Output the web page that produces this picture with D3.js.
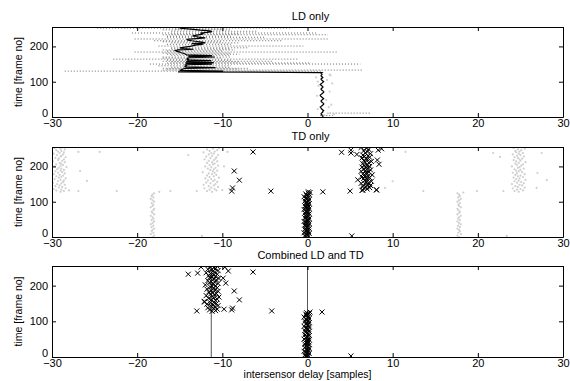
<!DOCTYPE html>
<html>
<head>
<meta charset="utf-8">
<script src="https://cdn.jsdelivr.net/npm/d3@7"></script>
<style>
  body { margin: 0; background: #fff; }
  text { font-family: "Liberation Sans", Arial, sans-serif; }
</style>
</head>
<body>
<div id="chart"></div>
<script>
// ---- data (delay in samples, time in frames) ----
var xTicks = [-30, -20, -10, 0, 10, 20, 30];
var yTicks = [0, 100, 200];
var titles = ["LD only", "TD only", "Combined LD and TD"];

// one estimate every 2nd frame
var earlyFrames = d3.range(0, 128, 2);
var lateFrames = d3.range(128, 256, 2);
// gray alternatives for the first half every 4th frame
var earlyFramesSparse = d3.range(0, 128, 4);

// LD only: tracked delay
var ldTrackEarly = [1.8,1.8,1.7,1.7,1.6,1.6,1.7,1.8,1.8,1.9,1.8,1.7,1.6,1.6,1.5,1.6,
  1.7,1.8,1.9,1.9,1.8,1.7,1.6,1.6,1.7,1.8,1.9,1.8,1.7,1.6,1.5,1.5,
  1.6,1.7,1.8,1.9,1.9,1.8,1.7,1.6,1.6,1.7,1.8,1.8,1.7,1.6,1.5,1.6,
  1.7,1.8,1.9,1.8,1.7,1.6,1.6,1.7,1.8,1.7,1.6,1.6,1.7,1.7,1.6,1.7];
var ldTrackLate = [-15.2,-9.9,-15.0,-14.8,-14.6,-14.4,-10.8,-14.3,-14.4,-14.2,-14.3,-11.2,-14.3,-11.0,-14.2,-14.1,
  -11.3,-14.2,-14.0,-14.1,-13.9,-10.9,-14.0,-11.2,-14.2,-14.3,-14.5,-14.8,-15.0,-15.3,-15.5,-15.2,
  -13.4,-14.6,-15.0,-14.4,-13.8,-13.4,-13.0,-12.3,-13.6,-12.0,-12.4,-13.0,-13.6,-14.0,-14.2,-13.1,
  -12.0,-12.6,-13.2,-13.5,-13.0,-12.5,-12.2,-12.6,-11.8,-11.2,-11.5,-12.6,-13.4,-14.2,-15.0,-14.6];
// LD only: dotted candidate rows [frame, from, to]
var ldRows = [[252,-24.7,-2.0],[249,-15.5,-10.0],[247,-17.0,-9.0],[243,-16.0,-6.0],[238,-20.6,1.0],
  [235,-16.0,-8.0],[233,-17.0,2.4],[229,-16.5,-9.0],[226,-16.5,-5.0],[221,-20.3,2.6],
  [216,-18.0,-3.0],[213,-17.0,-10.0],[210,-16.0,-8.0],[206,-16.5,-9.0],[201,-17.5,-0.5],
  [196,-16.0,-7.0],[193,-16.0,-9.0],[190,-17.0,-8.5],[187,-16.5,-10.0],[184,-20.3,3.5],
  [181,-17.0,-9.0],[178,-16.5,-8.0],[175,-16.0,-9.0],[170,-17.0,-9.0],[167,-17.0,-10.0],
  [164,-22.8,-1.0],[161,-16.5,-9.0],[158,-17.0,-4.0],[156,-16.0,-8.0],[153,-16.5,0.3],
  [150,-18.5,6.2],[145,-17.5,-9.0],[141,-16.0,-9.0],[138,-17.0,-7.0],[136,-16.5,-8.0],
  [133,-17.0,6.5],[130,-28.5,1.7],[11,2.6,7.3],[4,1.5,3.0]];
// LD only: scattered candidates around the early track [delay, frame]
var ldScatter = [[2.4,10],[1.2,22],[2.8,35],[2.2,48],[1.1,60],[2.6,72],[1.3,88],[2.9,95],
  [2.3,105],[1.0,112],[2.7,118],[2.0,5],[3.1,8],[2.5,28],[2.6,120],[1.2,100]];

// TD only: best estimate
var tdBestEarly = [-0.2,0.1,-0.3,0.0,-0.1,0.2,-0.4,-0.1,0.1,-0.2,0.0,-0.3,0.2,-0.1,0.0,-0.2,
  0.1,-0.3,-0.1,0.2,0.0,-0.2,-0.4,0.1,-0.1,0.0,0.2,-0.3,-0.1,0.1,-0.2,0.0,
  -0.1,0.2,-0.3,0.0,-0.2,0.1,-0.1,-0.4,0.2,0.0,-0.2,0.1,-0.3,-0.1,0.0,0.2,
  -0.2,-0.1,0.1,-0.3,0.0,0.2,-0.1,-0.2,0.1,-0.4,0.0,-0.1,0.2,-0.2,0.1,0.3];
var tdBestLate = [1.8,5.0,6.4,8.1,7.0,6.6,7.3,6.9,6.5,7.4,7.1,6.8,6.3,7.2,6.9,7.5,
  6.7,5.9,7.0,6.6,7.3,6.4,7.1,6.8,7.6,6.5,7.0,6.9,7.2,6.3,6.8,7.4,
  6.6,7.1,6.9,6.4,7.3,6.7,7.0,8.4,6.5,7.2,6.8,7.5,6.6,8.2,7.0,6.9,
  6.4,7.3,6.7,7.1,6.5,5.8,7.4,6.8,4.0,7.0,6.6,5.1,7.2,8.7,6.9,6.3];
var tdOutliers = [[-6.4,241],[-8.6,187],[-8.0,161],[-8.8,139],[-8.9,130],[-4.3,130],
  [5.2,3],[5.1,238],[8.3,246],[8.1,133],[6.5,133],[0.1,128]];
// TD only: secondary peaks (gray)
var tdAltA = [-18.2,-18.0,-18.4,-18.1,-18.3,-18.2,-18.0,-18.3,-18.1,-18.4,-18.2,-18.0,-18.3,-18.1,-18.2,-18.4,
  -18.0,-18.2,-18.3,-18.1,-18.0,-18.4,-18.2,-18.1,-18.3,-18.0,-18.2,-18.4,-18.1,-18.3,-18.2,-18.0];
var tdAltB = [17.8,17.6,18.0,17.7,17.9,17.8,17.6,17.9,17.7,18.0,17.8,17.6,17.9,17.7,17.8,18.0,
  17.6,17.8,17.9,17.7,17.6,18.0,17.8,17.7,17.9,17.6,17.8,18.0,17.7,17.9,17.8,17.6];
var tdAltC = [-29.0,-28.6,-29.5,-28.9,-29.8,-28.4,-29.2,-28.8,-29.6,-29.1,-28.5,-29.4,-28.9,-29.9,-28.7,-29.3,
  -28.6,-29.0,-29.7,-28.4,-29.2,-28.9,-29.5,-28.7,-29.1,-29.8,-28.5,-29.3,-28.8,-29.6,-29.0,-28.6,
  -29.4,-28.9,-29.2,-28.3,-29.7,-29.0,-28.7,-29.5,-28.9,-29.1,-28.5,-29.9,-28.8,-29.3,-28.6,-29.2,
  -29.6,-28.4,-29.0,-28.9,-29.4,-28.7,-29.8,-29.1,-28.6,-29.3,-28.9,-29.5,-28.5,-29.0,-29.7,-28.8];
var tdAltD = [-11.2,-11.8,-10.7,-11.5,-10.9,-12.1,-11.3,-10.5,-11.6,-11.0,-12.2,-10.8,-11.4,-11.9,-10.6,-11.1,
  -11.7,-10.9,-11.3,-12.0,-10.4,-11.5,-11.0,-11.8,-10.7,-11.2,-11.6,-10.9,-12.3,-11.1,-10.6,-11.4,
  -11.0,-11.7,-10.8,-11.3,-12.0,-10.5,-11.5,-11.1,-10.9,-11.8,-11.2,-10.6,-11.6,-11.0,-12.1,-10.8,
  -11.4,-10.7,-11.9,-11.2,-10.5,-11.6,-11.0,-11.3,-12.2,-10.9,-11.5,-10.6,-11.8,-11.1,-10.4,-11.3];
var tdAltE = [24.8,24.3,25.3,24.6,25.0,24.1,25.5,24.7,24.4,25.2,24.9,24.0,25.4,24.6,25.1,24.3,
  24.8,25.6,24.5,24.9,24.2,25.3,24.7,25.0,24.4,25.5,24.6,24.1,25.2,24.8,24.5,25.0,
  24.3,25.4,24.7,24.9,24.0,25.1,24.6,25.3,24.4,24.8,25.6,24.5,25.0,24.2,24.9,25.2,
  24.7,24.3,25.4,24.6,25.0,24.1,24.8,25.3,24.5,24.9,24.4,25.1,24.7,25.5,24.2,24.8];
var tdAltOutliers = [[-26.9,241],[-26.7,187],[-25.9,159],[-24.4,241],[-26.9,130],[-22.4,130],
  [-14.0,232],[-16.1,130],[-13.0,130],[-9.4,241],[-9.8,200],[-12.4,3],[11.5,241],[10.0,158],
  [9.1,139],[13.6,130],[19.9,130],[23.0,130],[21.8,238],[22.6,227],[27.0,181],[28.1,161],
  [26.9,139],[27.5,238],[23.4,3],[-17.4,128],[18.3,126],[-28.0,132],[-10.0,133]];

// Combined: best estimate
var combBestEarly = [0.0,-0.2,0.1,-0.3,-0.1,0.2,0.0,-0.2,-0.4,0.1,-0.1,0.0,0.2,-0.3,0.1,-0.2,
  -0.1,0.2,-0.3,0.0,-0.2,0.1,-0.1,0.0,0.2,-0.4,0.1,-0.2,0.0,-0.1,0.2,-0.3,
  0.1,-0.1,0.0,-0.2,0.2,-0.3,0.0,0.1,-0.2,-0.1,0.2,-0.4,0.0,0.1,-0.2,-0.1,
  0.2,0.0,-0.3,0.1,-0.1,-0.2,0.2,0.0,-0.4,0.1,-0.1,0.0,-0.2,0.2,-0.1,0.3];
var combBestLate = [-11.2,-10.8,-11.5,-10.6,-11.0,-11.7,-10.9,-11.3,-10.5,-11.1,-11.8,-10.7,-11.4,-11.0,-12.1,-10.8,
  -11.3,-10.6,-11.6,-11.0,-10.4,-11.2,-11.9,-10.9,-11.4,-10.7,-11.1,-11.6,-10.5,-11.3,-10.9,-11.8,
  -11.0,-10.6,-11.4,-11.2,-10.8,-12.0,-11.1,-10.5,-11.5,-10.9,-11.3,-11.7,-10.7,-11.0,-10.4,-11.5,
  -11.2,-10.8,-11.6,-11.0,-10.6,-11.4,-11.9,-10.9,-11.1,-10.5,-11.3,-11.7,-10.8,-11.0,-11.4,-10.6];
var combOutliers = [[-14.0,232],[-12.9,235],[-12.5,252],[-9.7,252],[-9.3,241],[-9.9,221],[-9.6,207],
  [-8.6,185],[-8.0,160],[-13.0,129],[-12.1,154],[-9.8,134],[-8.9,132],[-8.8,137],[-4.2,129],
  [-6.4,238],[1.7,126],[5.1,3]];
// Combined: reference delay lines [delay, fromFrame, toFrame]
var combLines = [[-11.3,0,255],[0,0,255]];

// ---- layout ----
var W = 570, H = 381;
var left = 52, right = 563;
var panelBox = [[27, 117], [147, 237], [266, 357]];

var svg = d3.select("#chart").append("svg")
    .attr("width", W)
    .attr("height", H);

var x = d3.scaleLinear().domain([-30, 30]).range([left, right]);
var crossPath = "M-2.5,-2.5L2.5,2.5M-2.5,2.5L2.5,-2.5";

function pairs(frames, values) {
  return values.map(function(v, i) { return [v, frames[i]]; });
}

function makePanel(i) {
  var top = panelBox[i][0], bottom = panelBox[i][1];
  var y = d3.scaleLinear().domain([0, 255]).range([bottom, top]);
  var g = svg.append("g");

  g.append("clipPath").attr("id", "clip" + i)
    .append("rect")
    .attr("x", left).attr("y", top)
    .attr("width", right - left).attr("height", bottom - top);

  var plot = g.append("g").attr("clip-path", "url(#clip" + i + ")");
  return { g: g, plot: plot, y: y, top: top, bottom: bottom };
}

function drawAxes(p, title) {
  var ax;
  ax = p.g.append("g").attr("transform", "translate(0," + p.bottom + ")")
    .call(d3.axisBottom(x).tickValues(xTicks).tickSize(-4).tickSizeOuter(0).tickPadding(2));
  styleAxis(ax);
  ax = p.g.append("g").attr("transform", "translate(0," + p.top + ")")
    .call(d3.axisTop(x).tickValues(xTicks).tickSize(-4).tickSizeOuter(0).tickFormat(""));
  styleAxis(ax);
  ax = p.g.append("g").attr("transform", "translate(" + left + ",0)")
    .call(d3.axisLeft(p.y).tickValues(yTicks).tickSize(-4).tickSizeOuter(0).tickPadding(4));
  styleAxis(ax);
  // the "0" label sits a little above the axis corner
  ax.selectAll(".tick text").filter(function(d) { return d === 0; }).attr("dy", "-0.05em");
  ax = p.g.append("g").attr("transform", "translate(" + right + ",0)")
    .call(d3.axisRight(p.y).tickValues(yTicks).tickSize(-4).tickSizeOuter(0).tickFormat(""));
  styleAxis(ax);

  p.g.append("text")
    .attr("x", (left + right) / 2 + 3)
    .attr("y", p.top - 7)
    .attr("text-anchor", "middle")
    .attr("font-size", 11)
    .text(title);

  p.g.append("text")
    .attr("transform", "translate(22," + ((p.top + p.bottom) / 2) + ") rotate(-90)")
    .attr("text-anchor", "middle")
    .attr("font-size", 10.5)
    .text("time [frame no]");
}

function styleAxis(ax) {
  ax.attr("font-family", null).attr("font-size", 11);
  ax.select(".domain").attr("stroke", "#000").attr("stroke-width", 1);
  ax.selectAll(".tick line").attr("stroke", "#000");
  ax.selectAll(".tick text").attr("fill", "#000");
}

function grayDots(plot, y, data) {
  plot.append("g").selectAll("circle")
    .data(data).enter().append("circle")
    .attr("cx", function(d) { return x(d[0]); })
    .attr("cy", function(d) { return y(d[1]); })
    .attr("r", 1.1)
    .attr("fill", "#cfcfcf");
}

function crosses(plot, y, data) {
  plot.append("g").selectAll("path")
    .data(data).enter().append("path")
    .attr("transform", function(d) { return "translate(" + x(d[0]) + "," + y(d[1]) + ")"; })
    .attr("d", crossPath)
    .attr("fill", "none")
    .attr("stroke", "#000")
    .attr("stroke-width", 1);
}

// ---- panel 1: LD only ----
var p1 = makePanel(0);
p1.plot.append("g").selectAll("line")
  .data(ldRows).enter().append("line")
  .attr("x1", function(d) { return x(d[1]); })
  .attr("x2", function(d) { return x(d[2]); })
  .attr("y1", function(d) { return p1.y(d[0]); })
  .attr("y2", function(d) { return p1.y(d[0]); })
  .attr("stroke", "#444")
  .attr("stroke-width", 0.8)
  .attr("stroke-dasharray", "1,2");
grayDots(p1.plot, p1.y, ldScatter);
var ldTrack = pairs(earlyFrames, ldTrackEarly).concat(pairs(lateFrames, ldTrackLate));
p1.plot.append("path")
  .datum(ldTrack)
  .attr("fill", "none")
  .attr("stroke", "#000")
  .attr("stroke-width", 1.2)
  .attr("d", d3.line()
    .x(function(d) { return x(d[0]); })
    .y(function(d) { return p1.y(d[1]); }));
drawAxes(p1, titles[0]);

// ---- panel 2: TD only ----
var p2 = makePanel(1);
grayDots(p2.plot, p2.y, pairs(earlyFramesSparse, tdAltA));
grayDots(p2.plot, p2.y, pairs(earlyFramesSparse, tdAltB));
grayDots(p2.plot, p2.y, pairs(lateFrames, tdAltC));
grayDots(p2.plot, p2.y, pairs(lateFrames, tdAltD));
grayDots(p2.plot, p2.y, pairs(lateFrames, tdAltE));
grayDots(p2.plot, p2.y, tdAltOutliers);
crosses(p2.plot, p2.y, pairs(earlyFrames, tdBestEarly));
crosses(p2.plot, p2.y, pairs(lateFrames, tdBestLate));
crosses(p2.plot, p2.y, tdOutliers);
drawAxes(p2, titles[1]);

// ---- panel 3: Combined LD and TD ----
var p3 = makePanel(2);
p3.plot.append("g").selectAll("line")
  .data(combLines).enter().append("line")
  .attr("x1", function(d) { return x(d[0]); })
  .attr("x2", function(d) { return x(d[0]); })
  .attr("y1", function(d) { return p3.y(d[1]); })
  .attr("y2", function(d) { return p3.y(d[2]); })
  .attr("stroke", "#555")
  .attr("stroke-width", 1);
crosses(p3.plot, p3.y, pairs(earlyFrames, combBestEarly));
crosses(p3.plot, p3.y, pairs(lateFrames, combBestLate));
crosses(p3.plot, p3.y, combOutliers);
drawAxes(p3, titles[2]);

svg.append("text")
  .attr("x", (left + right) / 2)
  .attr("y", 378)
  .attr("text-anchor", "middle")
  .attr("font-size", 10.5)
  .text("intersensor delay [samples]");
</script>
</body>
</html>
